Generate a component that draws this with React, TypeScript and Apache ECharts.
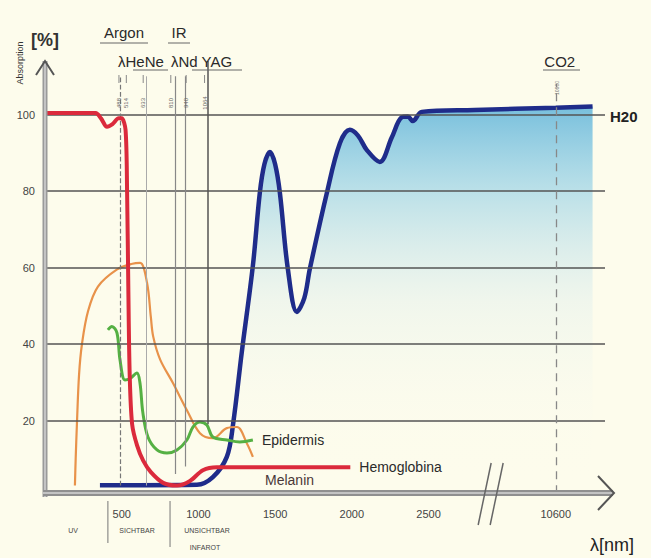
import { useEffect, useRef } from "react";
import * as echarts from "echarts";

// ---- data (wavelength in nm, absorption in %) ----
const X_TICKS = [500, 1000, 1500, 2000, 2500, 10600];
const Y_TICKS = [20, 40, 60, 80, 100];

const H2O_NM = [358, 600, 990, 1094, 1185, 1225, 1283, 1355, 1400, 1430, 1466, 1500, 1531, 1583, 1642, 1690, 1726, 1837, 1922, 1987, 2040, 2098, 2182, 2260, 2326, 2365, 2397, 2456, 2800, 10600, 11400];
const H2O_VAL = [3.1, 3.1, 3.2, 5.2, 10.5, 18.8, 38, 60.5, 79.5, 87, 90.2, 87, 79.5, 59.6, 48.4, 52, 59.6, 79.5, 92.5, 96, 94.5, 90.7, 87.6, 94, 99.3, 99.5, 98.3, 100.7, 101.2, 101.8, 102.1];

const HEMO_NM = [0, 330, 365, 404, 440, 480, 500, 525, 535, 543, 552, 568, 600, 640, 690, 770, 860, 945, 1029, 1120, 1990];
const HEMO_VAL = [100.4, 100.4, 99, 96.8, 97.5, 99, 99, 96, 80, 55, 32, 19, 13.5, 9.5, 6.5, 3.7, 3.0, 4.2, 7, 7.8, 7.8];

const MELANIN_NM = [195, 200, 208, 222, 241, 280, 345, 470, 570, 620, 665, 690, 705, 750, 834, 925, 1010, 1094, 1185, 1251, 1316, 1355];
const MELANIN_VAL = [3, 10, 19, 32, 40, 48.5, 55, 59.5, 61, 61.2, 56, 47, 42, 36, 29.8, 22.7, 16.7, 15.4, 18, 18.3, 14, 10.5];

const EPI_NM = [410, 436, 469, 489, 521, 554, 599, 619, 638, 671, 730, 795, 860, 925, 964, 1010, 1055, 1094, 1186, 1270, 1355];
const EPI_VAL = [43.7, 44.6, 42.9, 35.8, 30.6, 31, 32.4, 29.8, 22, 15.7, 12.3, 11.5, 12.3, 14.9, 18.3, 19.6, 18.8, 15.7, 14.9, 14.4, 14.9];

const LASER_NM = [489, 658, 847, 912, 1062];
const LASER_NAMES = ["488", "514", "633", "810", "940", "1064"];
const LASER_LABEL_NM = [482, 530, 640, 820, 920, 1040];
const CO2_NM = 10600;

// broken wavelength axis: everything past the break is compressed
const BREAK_AT = 3000;
const POS_10600 = 3329;
const POST_SCALE = 0.3;
function axisPos(nm: number) {
  return nm <= BREAK_AT ? nm : POS_10600 + (nm - 10600) * POST_SCALE;
}

const FONT = "'Liberation Sans', Arial, sans-serif";

export default function App() {
  const ref = useRef<HTMLDivElement>(null);

  useEffect(() => {
    document.body.style.margin = "0";
    const chart = echarts.init(ref.current!, null, { renderer: "svg" });

    const pair = (xs: number[], ys: number[]) => xs.map((x, i) => [axisPos(x), ys[i]]);

    const gridLines = Y_TICKS.map((v) => ({
      yAxis: v,
      lineStyle: { color: "#555", width: 1.6, type: "solid" },
    }));
    const laserStyles = [
      { type: "dashed", color: "#777", width: 1.2, from: 3 },
      { type: "solid", color: "#aaa", width: 1, from: 3 },
      { type: "solid", color: "#888", width: 1.2, from: 6 },
      { type: "solid", color: "#888", width: 1.2, from: 8 },
      { type: "solid", color: "#555", width: 1.5, from: 19 },
    ];
    const laserLines = LASER_NM.map((nm, i) => [
      { coord: [axisPos(nm), laserStyles[i].from], lineStyle: { type: laserStyles[i].type, color: laserStyles[i].color, width: laserStyles[i].width } },
      { coord: [axisPos(nm), i === 4 ? 114 : 110] },
    ]);
    const co2Line = [
      { coord: [axisPos(CO2_NM), 1], lineStyle: { type: [8, 6], color: "#888", width: 1.3 } },
      { coord: [axisPos(CO2_NM), 108] },
    ];

    chart.setOption({
      animation: false,
      backgroundColor: "#fdfcec",
      grid: { left: 45, right: 46, top: 61, bottom: 61 },
      xAxis: {
        type: "value",
        min: 0,
        max: 3650,
        axisLine: { show: false },
        axisTick: { show: false },
        splitLine: { show: false },
        axisLabel: {
          customValues: X_TICKS.map(axisPos),
          formatter: (val: number) => {
            const i = X_TICKS.findIndex((t) => Math.abs(axisPos(t) - val) < 1e-6);
            return i >= 0 ? String(X_TICKS[i]) : "";
          },
          color: "#444",
          fontSize: 11,
          fontFamily: FONT,
          margin: 11,
        },
      },
      yAxis: {
        type: "value",
        min: 0,
        max: 114,
        axisLine: { show: false },
        axisTick: { show: false },
        splitLine: { show: false },
        axisLabel: {
          customValues: Y_TICKS,
          color: "#444",
          fontSize: 11,
          fontFamily: FONT,
          margin: 10,
        },
      },
      series: [
        {
          name: "grid",
          type: "line",
          data: [[0, 0]],
          showSymbol: false,
          lineStyle: { opacity: 0 },
          silent: true,
          z: 1,
          markLine: {
            silent: true,
            symbol: ["none", "none"],
            label: { show: false },
            data: [...gridLines, ...laserLines, co2Line],
          },
        },
        {
          name: "H2O",
          type: "line",
          data: pair(H2O_NM, H2O_VAL),
          smooth: 0.35,
          showSymbol: false,
          lineStyle: { color: "#1f2c8a", width: 4.5 },
          areaStyle: {
            color: new echarts.graphic.LinearGradient(0, 0, 0, 1, [
              { offset: 0, color: "rgba(30,150,210,0.85)" },
              { offset: 0.2, color: "rgba(70,175,225,0.55)" },
              { offset: 0.5, color: "rgba(160,210,238,0.2)" },
              { offset: 0.8, color: "rgba(230,242,248,0.05)" },
              { offset: 1, color: "rgba(255,255,255,0)" },
            ]),
          },
          z: 2,
        },
        {
          name: "Melanin",
          type: "line",
          data: pair(MELANIN_NM, MELANIN_VAL),
          smooth: 0.35,
          showSymbol: false,
          lineStyle: { color: "#e8924a", width: 2.2 },
          z: 3,
        },
        {
          name: "Epidermis",
          type: "line",
          data: pair(EPI_NM, EPI_VAL),
          smooth: 0.35,
          showSymbol: false,
          lineStyle: { color: "#55b043", width: 3 },
          z: 4,
        },
        {
          name: "Hemoglobina",
          type: "line",
          data: pair(HEMO_NM, HEMO_VAL),
          smooth: 0.3,
          showSymbol: false,
          lineStyle: { color: "#db2a3c", width: 4 },
          z: 5,
        },
      ],
    });

    const px = (nm: number, v: number) => chart.convertToPixel({ gridIndex: 0 }, [axisPos(nm), v]) as number[];
    const [x0, y0] = px(0, 0);
    const yTop = px(0, 114)[1];
    const xEnd = 613;
    const midBreak = (px(2500, 0)[0] + px(10600, 0)[0]) / 2;

    const txt = (text: string, x: number, y: number, o: any = {}) => ({
      type: "text",
      x,
      y,
      rotation: o.rotation || 0,
      silent: true,
      z: 50,
      style: {
        text,
        fill: o.fill || "#2a2a2a",
        fontSize: o.size || 14,
        fontWeight: o.weight || "normal",
        fontFamily: FONT,
        align: o.align || "left",
        verticalAlign: "middle",
      },
    });
    const ln = (x1: number, y1: number, x2: number, y2: number, stroke: string, w: number) => ({
      type: "line",
      silent: true,
      z: 40,
      shape: { x1, y1, x2, y2 },
      style: { stroke, lineWidth: w },
    });

    const [endEpiX, endEpiY] = px(EPI_NM[EPI_NM.length - 1], EPI_VAL[EPI_VAL.length - 1]);
    const [endHemX, endHemY] = px(HEMO_NM[HEMO_NM.length - 1], HEMO_VAL[HEMO_VAL.length - 1]);
    const [, y100] = px(0, 100);

    const graphic: any[] = [
      // axes
      ln(x0, y0, x0, yTop, "#9a9a9a", 5),
      ln(x0, y0, x0, yTop, "#d6d6d6", 1.4),
      { type: "polyline", silent: true, z: 41, shape: { points: [[x0 - 9, yTop + 14], [x0, yTop], [x0 + 9, yTop + 14]] }, style: { stroke: "#555", lineWidth: 2, fill: "none" } },
      ln(x0 - 2, y0 - 4, xEnd, y0 - 4, "#8f8f8f", 6),
      ln(x0 - 2, y0 - 4, xEnd, y0 - 4, "#d4d4d4", 1.6),
      { type: "polyline", silent: true, z: 41, shape: { points: [[xEnd - 15, y0 - 21], [xEnd + 1, y0 - 4], [xEnd - 15, y0 + 13]] }, style: { stroke: "#555", lineWidth: 2, fill: "none" } },
      // axis break
      ln(midBreak - 14, y0 + 28, midBreak - 1, y0 - 34, "#666", 1.5),
      ln(midBreak - 2, y0 + 28, midBreak + 11, y0 - 34, "#666", 1.5),
      // axis titles
      txt("Absorption", 20, 63, { size: 9, rotation: Math.PI / 2, align: "center", fill: "#333" }),
      txt("[%]", 45, 40, { size: 18, weight: "bold", align: "center", fill: "#333" }),
      txt("λ[nm]", 590, 545, { size: 18, fill: "#222" }),
      // laser headings
      txt("Argon", 124, 32, { size: 15, align: "center" }),
      ln(100, 43, 148, 43, "#666", 1),
      txt("IR", 179, 32, { size: 15, align: "center" }),
      ln(168, 43, 190, 43, "#666", 1),
      txt("λHeNe", 118, 61, { size: 15 }),
      ln(133, 70, 168, 70, "#666", 1),
      txt("λNd YAG", 171, 61, { size: 15 }),
      ln(192, 70, 242, 70, "#666", 1),
      txt("CO2", px(CO2_NM, 0)[0] + 4, 61, { size: 15, align: "center" }),
      ln(543, 70, 580, 70, "#666", 1),
      txt("10600", px(CO2_NM, 0)[0] + 1, 88, { size: 5, rotation: Math.PI / 2, align: "center", fill: "#777" }),
      // curve labels
      txt("H20", 610, y100 + 2, { size: 15, weight: "bold", fill: "#222" }),
      txt("Epidermis", endEpiX + 9, endEpiY, { size: 14 }),
      txt("Hemoglobina", endHemX + 9, endHemY, { size: 14 }),
      txt("Melanin", 265, 480, { size: 14, fill: "#4a3838" }),
      // spectral regions
      txt("UV", 73, 530, { size: 7, align: "center", fill: "#444" }),
      txt("SICHTBAR", 137, 530, { size: 7, align: "center", fill: "#444" }),
      txt("UNSICHTBAR", 207, 530, { size: 7, align: "center", fill: "#444" }),
      txt("INFAROT", 205, 547, { size: 7, align: "center", fill: "#444" }),
      ln(px(410, 0)[0], y0 + 4, px(410, 0)[0], y0 + 46, "#777", 1),
      ln(px(815, 0)[0], y0 + 4, px(815, 0)[0], y0 + 50, "#777", 1),
    ];
    LASER_LABEL_NM.forEach((nm, i) => {
      graphic.push(txt(LASER_NAMES[i], px(nm, 0)[0], 103, { size: 6, rotation: Math.PI / 2, align: "center", fill: "#666" }));
      graphic.push({ type: "line", silent: true, z: 40, shape: { x1: px(nm, 0)[0], y1: 75, x2: px(nm, 0)[0], y2: 83 }, style: { stroke: "#888", lineWidth: 1 } });
    });

    chart.setOption({ graphic });

    return () => chart.dispose();
  }, []);

  return <div ref={ref} style={{ position: "fixed", left: 0, top: 0, width: 651, height: 558 }} />;
}
